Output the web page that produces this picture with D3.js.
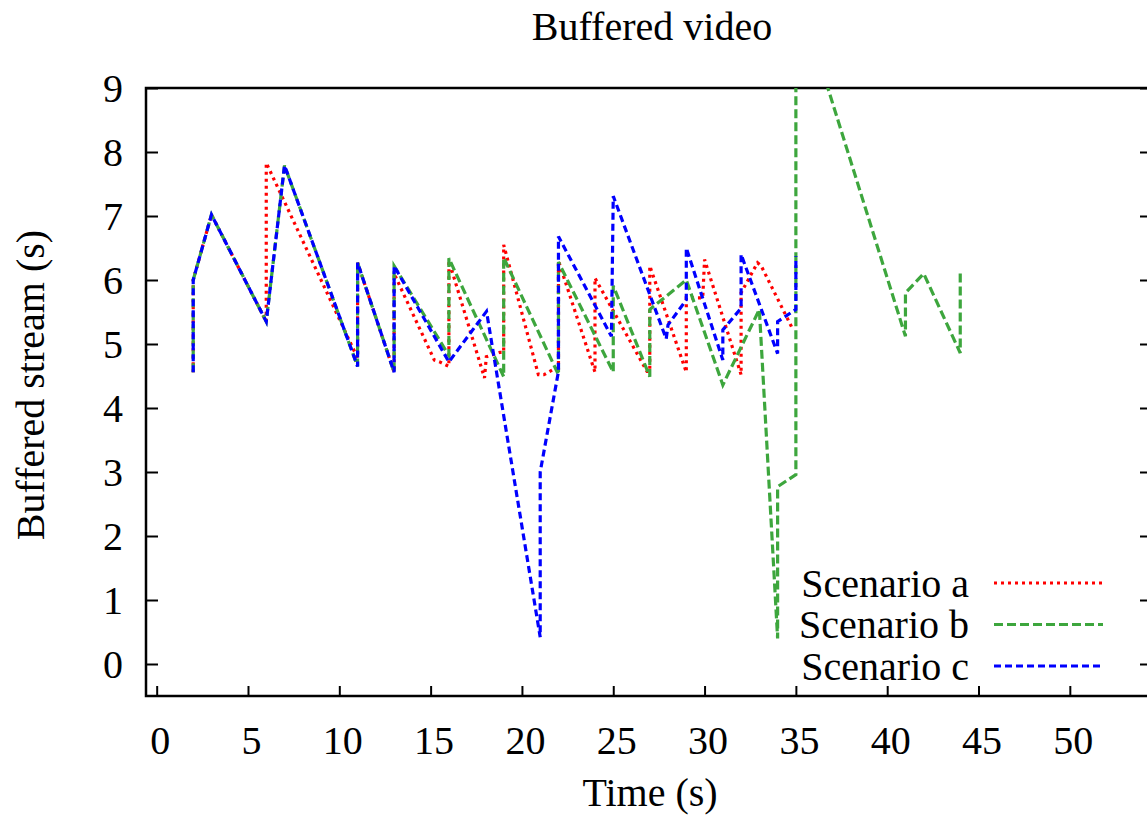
<!DOCTYPE html>
<html>
<head>
<meta charset="utf-8">
<script src="https://cdn.jsdelivr.net/npm/d3@7"></script>
<style>
  body { margin: 0; background: #fff; }
  text { font-family: "Liberation Serif", "DejaVu Serif", serif; fill: #000; }
</style>
</head>
<body>
<div id="chart"></div>
<script>
// time (s) and buffered stream (s) for each scenario
var timeA = [2, 2, 3, 6, 6, 11, 11, 13, 13, 15.2, 15.5, 16, 16, 17.95, 18.05, 18.8, 19, 19, 20.9, 21.2, 21.7, 22, 22, 24, 24, 26.85, 27, 27, 29, 29, 29.9, 30, 32, 32, 32.9, 33.1, 34.85];
var bufA  = [4.56, 6.0, 7.02, 5.35, 7.83, 4.78, 6.27, 4.56, 6.1, 4.75, 4.72, 4.65, 6.3, 4.47, 4.8, 4.87, 4.87, 6.55, 4.52, 4.52, 4.6, 4.62, 6.3, 4.56, 6.03, 4.57, 4.57, 6.22, 4.56, 5.72, 5.72, 6.32, 4.52, 5.8, 6.27, 6.22, 5.22];

var timeB = [2, 2, 3, 6, 7, 11, 11, 13, 13, 16, 16, 19, 19, 22, 22, 25, 25, 27, 27, 29, 31, 33, 34, 34, 35, 35, 41, 41, 42, 44, 44];
var bufB  = [4.56, 6.0, 7.02, 5.35, 7.79, 4.65, 6.27, 4.56, 6.22, 4.82, 6.34, 4.49, 6.35, 4.52, 6.28, 4.56, 5.91, 4.49, 5.54, 6.0, 4.36, 5.54, 0.40, 2.77, 2.96, 10.6, 5.12, 5.8, 6.1, 4.86, 6.1];

var timeC = [2, 2, 3, 6, 7, 11, 11, 13, 13, 16, 18.06, 21, 21, 22, 22, 24.9, 25, 27.9, 28, 29, 29, 31, 31, 32, 32, 34, 34, 35, 35];
var bufC  = [4.56, 6.0, 7.02, 5.35, 7.79, 4.65, 6.27, 4.56, 6.22, 4.72, 5.51, 0.42, 3.0, 4.57, 6.68, 5.12, 7.31, 5.08, 5.3, 5.69, 6.5, 4.75, 5.22, 5.56, 6.4, 4.85, 5.35, 5.54, 6.37];

var seriesNames = ["Scenario a", "Scenario b", "Scenario c"];
var seriesColors = ["#ff0000", "#3da63d", "#0000ff"];
var seriesDash = ["3,4", "9,4", "7,4"];
var xTicks = [0, 5, 10, 15, 20, 25, 30, 35, 40, 45, 50];
var yTicks = [0, 1, 2, 3, 4, 5, 6, 7, 8, 9];

var width = 1147, height = 819;
var plotLeft = 146, plotRight = 1152, plotTop = 88, plotBottom = 696;

var svg = d3.select("#chart").append("svg")
  .attr("width", width)
  .attr("height", height);

var x = d3.scaleLinear().domain([-0.585, 54.5]).range([plotLeft, plotRight]);
var y = d3.scaleLinear().domain([-0.5, 9]).range([plotBottom, plotTop]);

svg.append("defs").append("clipPath").attr("id", "plotClip")
  .append("rect")
  .attr("x", plotLeft).attr("y", plotTop)
  .attr("width", plotRight - plotLeft).attr("height", plotBottom - plotTop);

// ticks (inside the frame), left axis + mirrored right ticks
var yAxisL = d3.axisLeft(y).tickValues(yTicks).tickSize(-12).tickPadding(23).tickFormat(d3.format("d"));
var gy = svg.append("g").attr("transform", "translate(" + plotLeft + ",0)").call(yAxisL);
gy.select(".domain").remove();
gy.selectAll(".tick line").attr("stroke", "#000").attr("stroke-width", 2);
gy.selectAll(".tick text").style("font-size", "40px").attr("dy", "0.34em");

var yAxisR = d3.axisRight(y).tickValues(yTicks).tickSize(-12).tickFormat("");
var gyr = svg.append("g").attr("transform", "translate(" + plotRight + ",0)").call(yAxisR);
gyr.select(".domain").remove();
gyr.selectAll(".tick line").attr("stroke", "#000").attr("stroke-width", 2);

var xAxis = d3.axisBottom(x).tickValues(xTicks).tickSize(-10).tickPadding(30).tickFormat(d3.format("d"));
var gx = svg.append("g").attr("transform", "translate(0," + plotBottom + ")").call(xAxis);
gx.select(".domain").remove();
gx.selectAll(".tick line").attr("stroke", "#000").attr("stroke-width", 2);
gx.selectAll(".tick text").style("font-size", "40px").attr("dx", 3);

// frame
svg.append("rect")
  .attr("x", plotLeft).attr("y", plotTop)
  .attr("width", plotRight - plotLeft).attr("height", plotBottom - plotTop)
  .attr("fill", "none").attr("stroke", "#000").attr("stroke-width", 2.5);

// series
var series = [
  d3.zip(timeA, bufA),
  d3.zip(timeB, bufB),
  d3.zip(timeC, bufC)
];

var line = d3.line()
  .x(function (d) { return x(d[0]); })
  .y(function (d) { return y(d[1]); });

var plot = svg.append("g").attr("clip-path", "url(#plotClip)");
series.forEach(function (pts, i) {
  plot.append("path")
    .datum(pts)
    .attr("d", line)
    .attr("fill", "none")
    .attr("stroke", seriesColors[i])
    .attr("stroke-width", 3.2)
    .attr("stroke-dasharray", seriesDash[i]);
});

// legend
var legend = svg.append("g");
seriesNames.forEach(function (name, i) {
  var ly = 583 + i * 41.5;
  legend.append("text")
    .attr("x", 969).attr("y", ly)
    .attr("dy", "0.34em")
    .attr("text-anchor", "end")
    .style("font-size", "40px")
    .text(name);
  legend.append("line")
    .attr("x1", 994).attr("x2", 1103)
    .attr("y1", ly).attr("y2", ly)
    .attr("stroke", seriesColors[i])
    .attr("stroke-width", 3.2)
    .attr("stroke-dasharray", seriesDash[i]);
});

// titles
svg.append("text")
  .attr("x", 652).attr("y", 40)
  .attr("text-anchor", "middle")
  .style("font-size", "40px")
  .text("Buffered video");

svg.append("text")
  .attr("x", 650).attr("y", 806)
  .attr("text-anchor", "middle")
  .style("font-size", "40px")
  .text("Time (s)");

svg.append("text")
  .attr("transform", "translate(44,385) rotate(-90)")
  .attr("text-anchor", "middle")
  .style("font-size", "40px")
  .text("Buffered stream (s)");
</script>
</body>
</html>
